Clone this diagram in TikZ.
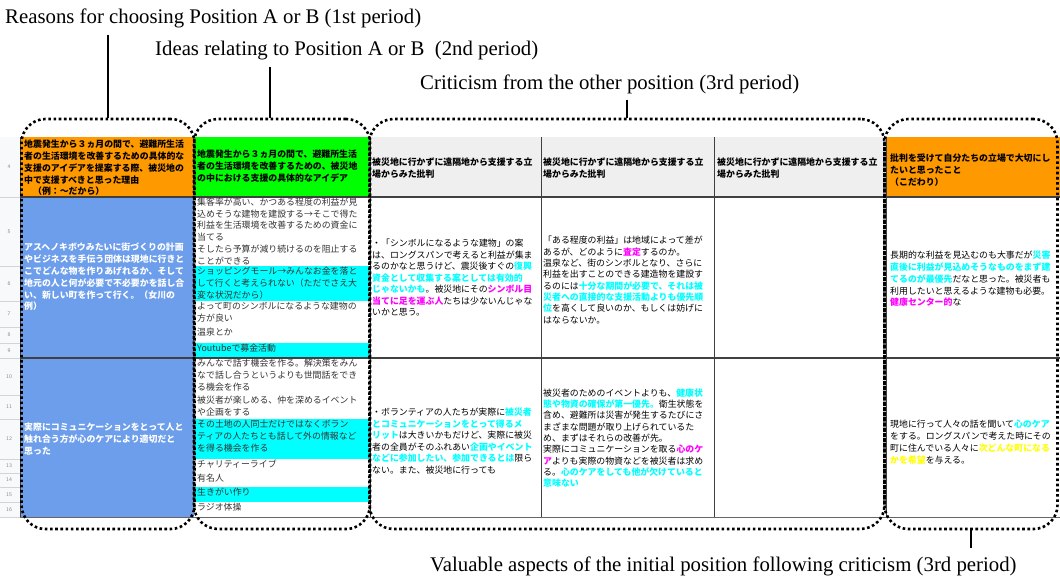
\documentclass[tikz,border=0pt]{standalone}
\usepackage{fontspec}
\newfontfamily\jp{Noto Sans CJK JP}
\newfontfamily\serifen{Liberation Serif}
\usetikzlibrary{calc}
\definecolor{hdrorange}{HTML}{FF9900}
\definecolor{hdrgreen}{HTML}{00FF00}
\definecolor{hdrgray}{HTML}{EFEFEF}
\definecolor{cellblue}{HTML}{6D9EEB}
\definecolor{hicyan}{HTML}{00FFFF}
\definecolor{himag}{HTML}{FF00FF}
\definecolor{hiyel}{HTML}{FFFF00}
\definecolor{rowgray}{HTML}{F8F9FA}
\definecolor{gridgray}{HTML}{D4D4D4}
\definecolor{inkgray}{HTML}{333333}
\newcommand\cy[1]{{\color{hicyan}\bfseries #1}}
\newcommand\mg[1]{{\color{himag}\bfseries #1}}
\newcommand\yl[1]{{\color{hiyel}\bfseries #1}}
\tikzset{
  dotbox/.style={draw, line width=2.6pt, dash pattern=on 2.6pt off 2.6pt, rounded corners=24pt, inner sep=0pt},
  lead/.style={line width=2.8pt},
  heading/.style={font=\serifen\fontsize{20.8}{24}\selectfont, anchor=base west, inner sep=0pt},
  txt/.style={font=\jp\fontsize{8.9}{11.8}\selectfont, align=left, inner sep=0pt, text width=#1},
  hdr/.style={txt=#1, font=\jp\bfseries\fontsize{8.9}{11.8}\selectfont},
  rownum/.style={font=\sffamily\fontsize{5.5}{6}\selectfont, text=black!45, inner sep=0pt},
}

\begin{document}
\begin{tikzpicture}[x=1pt, y=-1pt]
		\useasboundingbox (0,0) rectangle (1060,578);
		
		%%%%% SHEET %%%%%
		
		\fill[rowgray] (0,137) rectangle (20,517);
		\fill[hdrorange] (20,137) rectangle (194,197);
		\fill[hdrgreen] (194,137) rectangle (370,197);
		\fill[hdrgray] (370,137) rectangle (886,197);
		\fill[hdrorange] (886,137) rectangle (1060,197);
		\fill[cellblue] (20,197) rectangle (194,517);
		
		% row numbers
		\foreach \n/\a/\b in {4/137/197, 5/197/266, 6/266/301, 7/301/327, 8/327/343, 9/343/358, 10/358/395, 11/395/419, 12/419/459, 13/459/473, 14/473/487, 15/487/502, 16/502/517}{
			\draw[gridgray, line width=0.6pt] (0,\b) -- (20,\b);
			\node[rownum] (r\n) at (9,{(\a+\b)/2}) {\n};
		}
		
		% ideas column cells
		\foreach \a/\b/\c in {197/266/white, 266/301/hicyan, 301/327/white, 327/343/white, 343/358/hicyan, 358/395/white, 395/419/white, 419/459/hicyan, 459/473/white, 473/487/white, 487/502/hicyan, 502/517/white}{
			\fill[\c] (194,\a) rectangle (370,\b);
			\draw[gridgray, line width=0.6pt] (194,\b) -- (370,\b);
		}
		
		\draw[black!75, line width=0.8pt] (20,137) -- (20,517);
		\foreach \x in {370,541,714,886}
			\draw[black!75, line width=0.8pt] (\x,137) -- (\x,517);
		\draw[black!75, line width=1.2pt] (20,197) -- (1060,197);
		\draw[black!75, line width=1.2pt] (20,358) -- (1060,358);
		\draw[black!60, line width=1pt] (20,517) -- (1060,517);
		
		% headers
		\node[hdr=170pt, anchor=west] (h1) at (24,168) {地震発生から３ヵ月の間で、避難所生活\\者の生活環境を改善するための具体的な\\支援のアイデアを提案する際、被災地の\\中で支援すべきと思った理由\\　（例：～だから）};
		\node[hdr=172pt, anchor=west] (h2) at (197,166) {地震発生から３ヵ月の間で、避難所生活\\者の生活環境を改善するための、被災地\\の中における支援の具体的なアイデア};
		\node[hdr=168pt, anchor=west] (h3) at (372,168) {被災地に行かずに遠隔地から支援する立\\場からみた批判};
		\node[hdr=170pt, anchor=west] (h4) at (543,168) {被災地に行かずに遠隔地から支援する立\\場からみた批判};
		\node[hdr=170pt, anchor=west] (h5) at (717,168) {被災地に行かずに遠隔地から支援する立\\場からみた批判};
		\node[hdr=170pt, anchor=west] (h6) at (890,170) {批判を受けて自分たちの立場で大切にし\\たいと思ったこと\\（こだわり）};
		
		% reasons
		\node[txt=170pt, anchor=west, text=white, font=\jp\bfseries\fontsize{8.9}{11.8}\selectfont] (a1) at (24,277) {アスヘノキボウみたいに街づくりの計画\\やビジネスを手伝う団体は現地に行きと\\こでどんな物を作りあげれるか、そして\\地元の人と何が必要で不必要かを話し合\\い、新しい町を作って行く。（女川の\\例）};
		\node[txt=170pt, anchor=west, text=white, font=\jp\bfseries\fontsize{8.9}{11.8}\selectfont] (a2) at (24,439) {実際にコミュニケーションをとって人と\\触れ合う方が心のケアにより適切だと\\思った};
		
		% ideas
		\begin{scope}[every node/.style={txt=172pt, anchor=north west, text=inkgray}]
		\node (b1) at (197,197.5) {集客率が高い、かつある程度の利益が見\\込めそうな建物を建設する→そこで得た\\利益を生活環境を改善するための資金に\\当てる\\そしたら予算が減り続けるのを阻止する\\ことができる};
		\node (b2) at (197,267) {ショッピングモール→みんなお金を落と\\して行くと考えられない（ただでさえ大\\変な状況だから）};
		\node (b3) at (197,302) {よって町のシンボルになるような建物の\\方が良い};
		\node (b4) at (197,328) {温泉とか};
		\node (b5) at (197,344) {Youtubeで募金活動};
		\node (b6) at (197,359) {みんなで話す機会を作る。解決策をみん\\なで話し合うというよりも世間話をでき\\る機会を作る};
		\node (b7) at (197,396) {被災者が楽しめる、仲を深めるイベント\\や企画をする};
		\node (b8) at (197,420) {その土地の人同士だけではなくボラン\\ティアの人たちとも話して外の情報など\\を得る機会を作る};
		\node (b9) at (197,460) {チャリティーライブ};
		\node (b10) at (197,474) {有名人};
		\node (b11) at (197,488) {生きがい作り};
		\node (b12) at (197,503) {ラジオ体操};
		\end{scope}
		
		% criticism
		\node[txt=168pt, anchor=west, font=\jp\fontsize{8.9}{11.5}\selectfont] (c1) at (372,278) {・「シンボルになるような建物」の案\\は、ロングスパンで考えると利益が集ま\\るのかなと思うけど、震災後すぐの\cy{復興}\\\cy{資金として収集する案としては有効的}\\\cy{じゃないかも}。被災地にその\mg{シンボル目}\\\mg{当てに足を運ぶ人}たちは少ないんじゃな\\いかと思う。};
		\node[txt=168pt, anchor=west, font=\jp\fontsize{8.9}{11.5}\selectfont] (c2) at (372,441) {・ボランティアの人たちが実際に\cy{被災者}\\\cy{とコミュニケーションをとって得るメ}\\\cy{リット}は大きいかもだけど、実際に被災\\者の全員がそのふれあい\cy{企画やイベント}\\\cy{などに参加したい、参加できるとは}限ら\\ない。また、被災地に行っても};
		\node[txt=170pt, anchor=west, font=\jp\fontsize{8.9}{11.3}\selectfont] (d1) at (543,280) {「ある程度の利益」は地域によって差が\\あるが、どのように\mg{査定}するのか。\\温泉など、街のシンボルとなり、さらに\\利益を出すことのできる建造物を建設す\\るのには\cy{十分な期間が必要で、それは被}\\\cy{災者への直接的な支援活動よりも優先順}\\\cy{位}を高くして良いのか、もしくは妨げに\\はならないか。};
		\node[txt=170pt, anchor=west, font=\jp\fontsize{8.9}{11.3}\selectfont] (d2) at (543,438) {被災者のためのイベントよりも、\cy{健康状}\\\cy{態や物資の確保が第一優先。}衛生状態を\\含め、避難所は災害が発生するたびにさ\\まざまな問題が取り上げられているた\\め、まずはそれらの改善が先。\\実際にコミュニケーションを取る\mg{心のケ}\\\mg{ア}よりも実際の物資などを被災者は求め\\る。\cy{心のケアをしても他が欠けていると}\\\cy{意味ない}};
		
		% valuable aspects
		\node[txt=170pt, anchor=west] (e1) at (890,279) {長期的な利益を見込むのも大事だが\cy{災害}\\\cy{直後に利益が見込めそうなものをまず建}\\\cy{てるのが最優先}だなと思った。被災者も\\利用したいと思えるような建物も必要。\\\mg{健康センター的}な};
		\node[txt=170pt, anchor=west] (e2) at (890,442) {現地に行って人々の話を聞いて\cy{心のケア}\\をする。ロングスパンで考えた時にその\\町に住んでいる人々に\yl{次どんな町になる}\\\yl{かを希望}を与える。};
		
		%%%%% FRAMES %%%%%
		
		\node[dotbox, minimum width=173pt, minimum height=410pt] (box1) at (108,324) {};
		\node[dotbox, minimum width=176pt, minimum height=410pt] (box2) at (282,324) {};
		\node[dotbox, minimum width=515pt, minimum height=410pt] (box3) at (627,324) {};
		\node[dotbox, minimum width=173pt, minimum height=410pt] (box4) at (971,324) {};
		
		\node[heading] (reasons) at (5,24) {Reasons for choosing Position A or B (1st period)};
		\node[heading] (ideas) at (155,56) {Ideas relating to Position A or B\ \ (2nd period)};
		\node[heading] (critique) at (420,89) {Criticism from the other position (3rd period)};
		\node[heading] (valuable) at (430,571) {Valuable aspects of the initial position following criticism (3rd period)};
		
		\draw[lead, shorten <=6pt] (reasons.south -| box1.north) -- (box1.north);
		\draw[lead, shorten <=6pt] (ideas.south -| 270,0) -- ([xshift=-12pt]box2.north);
		\draw[lead, shorten <=6pt] (critique.south -| box3.north) -- (box3.north);
		\draw[lead, shorten <=8pt] (valuable.north -| box4.south) -- (box4.south);
		
	\end{tikzpicture}
\end{document}
